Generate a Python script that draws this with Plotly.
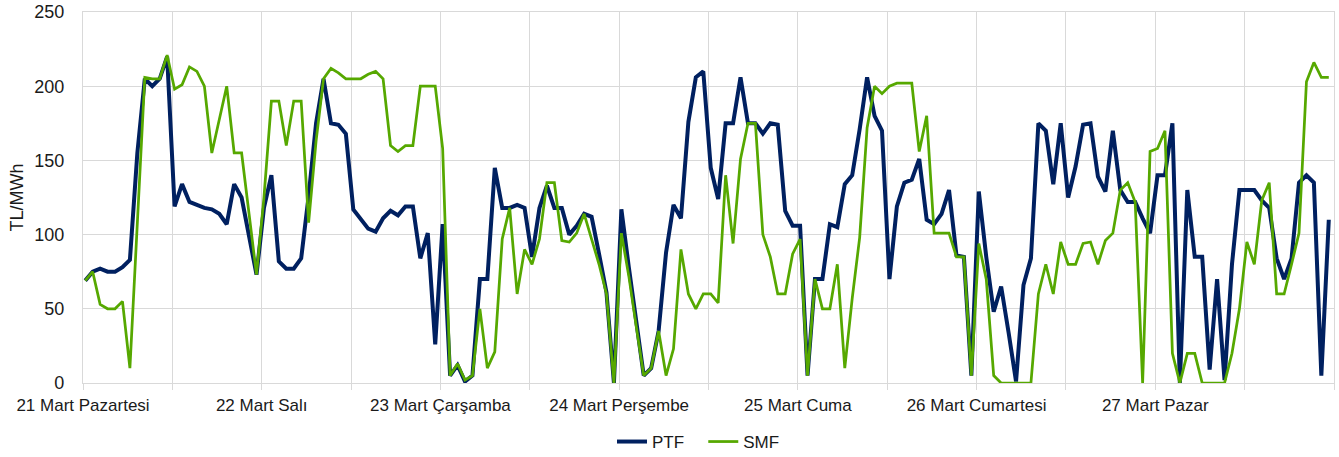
import plotly.graph_objects as go

day_labels = ["21 Mart Pazartesi", "22 Mart Salı", "23 Mart Çarşamba", "24 Mart Perşembe",
              "25 Mart Cuma", "26 Mart Cumartesi", "27 Mart Pazar"]

ptf = [
    69, 75, 77, 75, 75, 78, 83, 155, 205, 200, 205, 220, 119, 134, 122, 120, 118, 117, 114, 107, 134, 125, 100, 73,
    118, 140, 82, 77, 77, 84, 126, 175, 205, 175, 174, 168, 117, 110, 104, 102, 111, 116, 113, 119, 119, 84, 101, 26,
    107, 5, 12, 1, 5, 70, 70, 145, 118, 118, 120, 118, 85, 118, 133, 118, 118, 100, 106, 114, 112, 87, 61, 0,
    117, 78, 40, 5, 10, 35, 88, 120, 111, 176, 206, 210, 145, 124, 175, 175, 206, 175, 175, 168, 175, 174, 116, 106,
    106, 5, 70, 70, 107, 105, 134, 140, 171, 206, 180, 170, 70, 119, 135, 137, 151, 110, 107, 114, 130, 86, 85, 5,
    129, 85, 48, 65, 34, 1, 66, 84, 175, 170, 134, 175, 125, 146, 174, 175, 139, 129, 170, 130, 122, 122, 111, 101,
    140, 140, 175, 0, 130, 85, 85, 9, 70, 2, 80, 130, 130, 130, 123, 118, 84, 70, 84, 135, 140, 135, 5, 110,
]

smf = [
    69, 75, 53, 50, 50, 55, 10, 110, 206, 205, 205, 221, 198, 201, 213, 210, 200, 155, 178, 200, 155, 155, 114, 73,
    125, 190, 190, 160, 190, 190, 108, 163, 205, 212, 209, 205, 205, 205, 208, 210, 205, 160, 156, 160, 160, 200, 200, 200,
    158, 5, 13, 2, 5, 50, 10, 21, 97, 118, 60, 90, 80, 97, 135, 135, 96, 95, 101, 114, 97, 80, 60, 0,
    101, 72, 38, 5, 10, 35, 5, 23, 90, 60, 50, 60, 60, 54, 140, 94, 151, 175, 175, 100, 85, 60, 60, 87,
    97, 5, 70, 50, 50, 80, 10, 57, 98, 172, 200, 195, 200, 202, 202, 202, 156, 180, 101, 101, 101, 85, 85, 5,
    94, 70, 5, 0, 0, 0, 0, 0, 60, 80, 60, 95, 80, 80, 94, 95, 80, 96, 101, 130, 135, 122, 0, 156,
    158, 170, 20, 0, 20, 20, 0, 0, 0, 0, 20, 50, 95, 80, 123, 135, 60, 60, 80, 101, 203, 216, 206, 206,
]

hours = list(range(len(ptf)))
off = -0.3
tickvals = [12 * k + off for k in range(15)]
ticktext = [day_labels[k // 2] if (k % 2 == 0 and k // 2 < len(day_labels)) else "" for k in range(15)]

font_family = "Liberation Sans, Arial, sans-serif"
grid = "#d9d9d9"

fig = go.Figure()
fig.add_trace(go.Scatter(x=hours, y=ptf, mode="lines", name="PTF" + "\u00a0" * 3,
                         line=dict(color="#002060", width=4)))
fig.add_trace(go.Scatter(x=hours, y=smf, mode="lines", name="SMF",
                         line=dict(color="#56A800", width=2.75)))

fig.update_layout(
    width=1339, height=457,
    margin=dict(l=83, r=5, t=12, b=74, autoexpand=False),
    paper_bgcolor="white", plot_bgcolor="white",
    font=dict(family=font_family, size=17, color="#1a1a1a"),
    showlegend=True,
    legend=dict(orientation="h", x=0.492, xanchor="center", y=-0.159, yanchor="middle",
                font=dict(size=17), bgcolor="rgba(0,0,0,0)"),
    xaxis=dict(range=[off, 168 + off], tickvals=tickvals, ticktext=ticktext,
               showgrid=True, gridcolor=grid, gridwidth=1.3,
               showline=True, linecolor=grid, linewidth=1.3, mirror=True,
               ticks="outside", ticklen=6, tickcolor=grid, zeroline=False,
               tickfont=dict(size=17), automargin=False),
    yaxis=dict(range=[0, 250], tickvals=[0, 50, 100, 150, 200, 250],
               showgrid=True, gridcolor=grid, gridwidth=1.3,
               showline=True, linecolor=grid, linewidth=1.3, mirror=True,
               zeroline=False, ticklabelstandoff=14, tickfont=dict(size=18),
               automargin=False),
    annotations=[dict(text="TL/MWh", textangle=-90, xref="paper", yref="paper",
                      x=-0.0528, y=0.5, xanchor="center", yanchor="middle",
                      showarrow=False, font=dict(size=18))],
)

fig.write_html("out.html", config={"displayModeBar": False},
               post_script="document.body.style.margin='0';document.body.style.padding='0';document.body.style.overflow='hidden';")
